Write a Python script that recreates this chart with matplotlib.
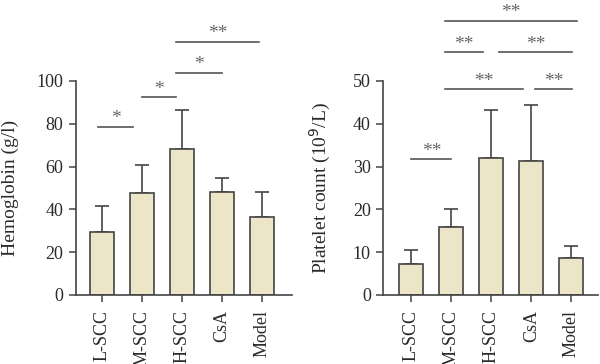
import matplotlib
matplotlib.use("Agg")
import matplotlib.pyplot as plt

plt.rcParams["font.family"] = ["Liberation Serif", "DejaVu Serif"]

groups = ["L-SCC", "M-SCC", "H-SCC", "CsA", "Model"]

hb_mean = [29.3, 47.5, 68.4, 48.0, 36.4]
hb_err = [12.4, 13.2, 18.0, 6.8, 11.9]
hb_sig = [(-0.09, 0.77, 78.6, "*"), (1.0, 1.86, 92.5, "*"),
          (1.86, 3.0, 103.9, "*"), (1.86, 3.93, 118.4, "**")]

plt_mean = [7.2, 15.8, 32.0, 31.2, 8.7]
plt_err = [3.3, 4.3, 11.2, 13.2, 2.8]
plt_sig = [(0.0, 1.0, 31.7, "**"), (0.83, 2.8, 48.1, "**"),
           (3.08, 4.02, 48.1, "**"), (0.83, 1.79, 56.7, "**"),
           (2.19, 4.02, 56.7, "**"), (0.83, 4.15, 64.1, "**")]

BAR = "#ECE5C8"
EDGE = "#444444"
TXT = "#2a2a2a"

fig = plt.figure(figsize=(6.0, 3.64), dpi=100)
ax1 = fig.add_axes([0.126, 0.1896, 0.361, 0.588])
ax2 = fig.add_axes([0.639, 0.1896, 0.358, 0.588])


def draw(ax, means, errs, sig, ymax, yticks, ylabel, xlim, lab_x):
    x = list(range(len(groups)))
    ax.bar(x, means, width=0.6, color=BAR, edgecolor=EDGE, linewidth=1.2, zorder=2)
    ax.errorbar(x, means, yerr=[[0] * len(errs), errs], fmt="none",
                ecolor=EDGE, elinewidth=1.2, capsize=5, capthick=1.2, zorder=1)
    ax.set_xlim(*xlim)
    ax.set_ylim(0, ymax)
    ax.set_yticks(yticks)
    ax.set_xticks(x)
    ax.set_xticklabels(groups, rotation=90, fontsize=13, color=TXT)
    ax.tick_params(axis="y", labelsize=13, colors=TXT, length=5, width=1.1,
                   color=EDGE, pad=4)
    ax.tick_params(axis="x", length=5, width=1.1, color=EDGE, pad=6)
    for s in ["top", "right"]:
        ax.spines[s].set_visible(False)
    for s in ["left", "bottom"]:
        ax.spines[s].set_color(EDGE)
        ax.spines[s].set_linewidth(1.2)
    ax.set_ylabel(ylabel, fontsize=14, color=TXT, va="center")
    ax.yaxis.set_label_coords(lab_x, 0.5)
    for x0, x1, y, star in sig:
        ax.plot([x0, x1], [y, y], color="#555555", lw=1.2, clip_on=False)
        ax.annotate(star, ((x0 + x1) / 2, y), xytext=(0, -0.5),
                    textcoords="offset points", ha="center", va="bottom",
                    fontsize=14, color="#666666", annotation_clip=False)


draw(ax1, hb_mean, hb_err, hb_sig, 100, [0, 20, 40, 60, 80, 100],
     "Hemoglobin (g/l)", (-0.66, 4.75), -0.30)
draw(ax2, plt_mean, plt_err, plt_sig, 50, [0, 10, 20, 30, 40, 50],
     "Platelet count (10$^{9}$/L)", (-0.7, 4.67), -0.295)

fig.savefig("out.png", dpi=100)
